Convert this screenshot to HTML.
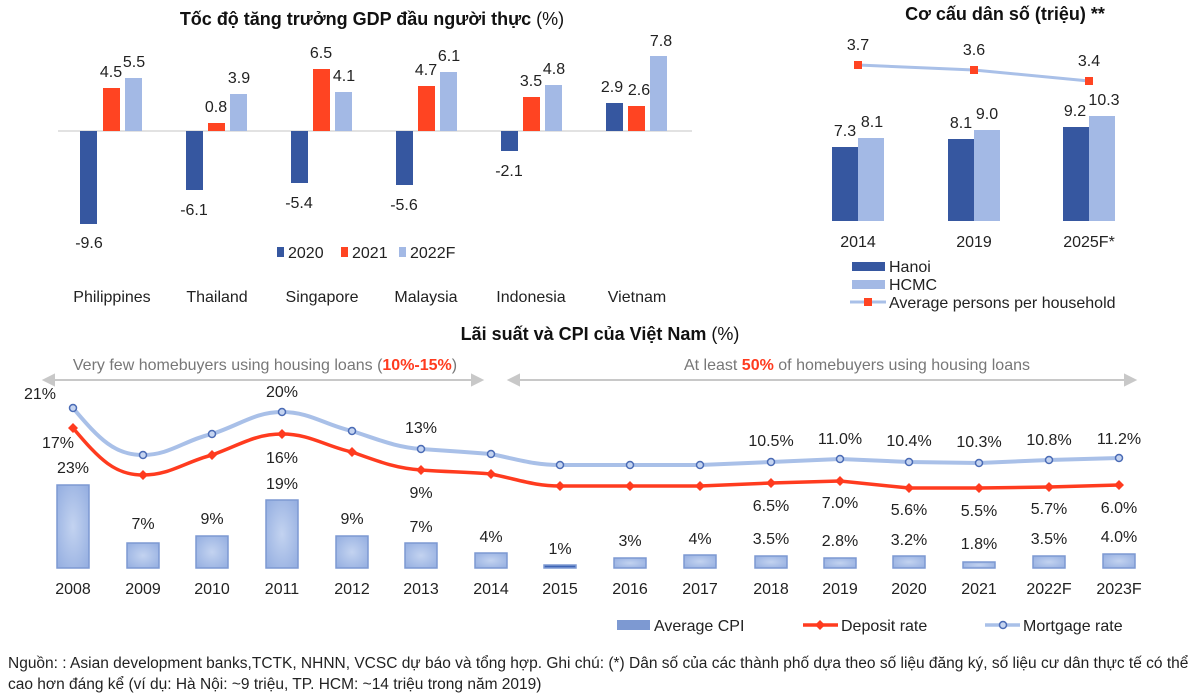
<!DOCTYPE html>
<html><head><meta charset="utf-8"><style>
body{margin:0;background:#fff;}
svg{display:block;font-family:"Liberation Sans","Noto Sans CJK SC",sans-serif;}
</style></head><body>
<svg width="1200" height="694" viewBox="0 0 1200 694">
<defs>
<radialGradient id="cpi" cx="50%" cy="50%" r="70%"><stop offset="0" stop-color="#c3d3f0"/><stop offset="1" stop-color="#93ade0"/></radialGradient>
</defs>
<text x="372" y="25" font-size="18" font-weight="bold" text-anchor="middle" fill="#111">Tốc độ tăng trưởng GDP đầu người thực <tspan font-weight="normal">(%)</tspan></text>
<line x1="58" y1="131" x2="692" y2="131" stroke="#d9d9d9" stroke-width="1.5"/>
<g font-size="16" fill="#222" text-anchor="middle">
<rect x="80" y="131" width="17" height="93" fill="#3657a0"/><rect x="103" y="88" width="17" height="43" fill="#ff4422"/><rect x="125" y="78" width="17" height="53" fill="#a3b9e5"/>
<text x="89" y="248">-9.6</text><text x="111" y="77">4.5</text><text x="134" y="67">5.5</text>
<rect x="186" y="131" width="17" height="59" fill="#3657a0"/><rect x="208" y="123" width="17" height="8" fill="#ff4422"/><rect x="230" y="94" width="17" height="37" fill="#a3b9e5"/>
<text x="194" y="215">-6.1</text><text x="216" y="112">0.8</text><text x="239" y="83">3.9</text>
<rect x="291" y="131" width="17" height="52" fill="#3657a0"/><rect x="313" y="69" width="17" height="62" fill="#ff4422"/><rect x="335" y="92" width="17" height="39" fill="#a3b9e5"/>
<text x="299" y="208">-5.4</text><text x="321" y="58">6.5</text><text x="344" y="81">4.1</text>
<rect x="396" y="131" width="17" height="54" fill="#3657a0"/><rect x="418" y="86" width="17" height="45" fill="#ff4422"/><rect x="440" y="72" width="17" height="59" fill="#a3b9e5"/>
<text x="404" y="210">-5.6</text><text x="426" y="75">4.7</text><text x="449" y="61">6.1</text>
<rect x="501" y="131" width="17" height="20" fill="#3657a0"/><rect x="523" y="97" width="17" height="34" fill="#ff4422"/><rect x="545" y="85" width="17" height="46" fill="#a3b9e5"/>
<text x="509" y="176">-2.1</text><text x="531" y="86">3.5</text><text x="554" y="74">4.8</text>
<rect x="606" y="103" width="17" height="28" fill="#3657a0"/><rect x="628" y="106" width="17" height="25" fill="#ff4422"/><rect x="650" y="56" width="17" height="75" fill="#a3b9e5"/>
<text x="612" y="92">2.9</text><text x="639" y="95">2.6</text><text x="661" y="46">7.8</text>
</g>
<g font-size="16" fill="#222">
<rect x="277" y="247" width="7" height="10" fill="#3657a0"/><text x="288" y="258">2020</text>
<rect x="341" y="247" width="7" height="10" fill="#ff4422"/><text x="352" y="258">2021</text>
<rect x="399" y="247" width="7" height="10" fill="#a3b9e5"/><text x="410" y="258">2022F</text>
</g>
<g font-size="16" fill="#222" text-anchor="middle">
<text x="112" y="302">Philippines</text><text x="217" y="302">Thailand</text><text x="322" y="302">Singapore</text><text x="426" y="302">Malaysia</text><text x="531" y="302">Indonesia</text><text x="637" y="302">Vietnam</text>
</g>
<text x="1005" y="20" font-size="18" font-weight="bold" text-anchor="middle" fill="#111">Cơ cấu dân số (triệu) **</text>
<g font-size="16" fill="#222" text-anchor="middle">
<rect x="832" y="147" width="26" height="74" fill="#3657a0"/><rect x="858" y="138" width="26" height="83" fill="#a3b9e5"/>
<rect x="948" y="139" width="26" height="82" fill="#3657a0"/><rect x="974" y="130" width="26" height="91" fill="#a3b9e5"/>
<rect x="1063" y="127" width="26" height="94" fill="#3657a0"/><rect x="1089" y="116" width="26" height="105" fill="#a3b9e5"/>
<text x="845" y="136">7.3</text><text x="872" y="127">8.1</text>
<text x="961" y="128">8.1</text><text x="987" y="119">9.0</text>
<text x="1075" y="116">9.2</text><text x="1104" y="105">10.3</text>
<polyline points="858,65 974,70 1089,81" fill="none" stroke="#a9c0e8" stroke-width="3"/>
<rect x="854" y="61" width="8" height="8" fill="#ff4422"/><rect x="970" y="66" width="8" height="8" fill="#ff4422"/><rect x="1085" y="77" width="8" height="8" fill="#ff4422"/>
<text x="858" y="50">3.7</text><text x="974" y="55">3.6</text><text x="1089" y="66">3.4</text>
<text x="858" y="247">2014</text><text x="974" y="247">2019</text><text x="1089" y="247">2025F*</text>
</g>
<g font-size="16" fill="#222">
<rect x="852" y="262" width="33" height="9" fill="#3657a0"/><text x="889" y="272">Hanoi</text>
<rect x="852" y="280" width="33" height="9" fill="#a3b9e5"/><text x="889" y="290">HCMC</text>
<line x1="850" y1="302" x2="886" y2="302" stroke="#a9c0e8" stroke-width="3"/><rect x="864" y="298" width="8" height="8" fill="#ff4422"/><text x="889" y="308">Average persons per household</text>
</g>
<text x="600" y="340" font-size="18" font-weight="bold" text-anchor="middle" fill="#111">Lãi suất và CPI của Việt Nam <tspan font-weight="normal">(%)</tspan></text>
<g font-size="16" fill="#777" text-anchor="middle">
<text x="265" y="370">Very few homebuyers using housing loans (<tspan fill="#ff3b1f" font-weight="bold">10%-15%</tspan>)</text>
<text x="857" y="370">At least <tspan fill="#ff3b1f" font-weight="bold">50%</tspan> of homebuyers using housing loans</text>
</g>
<g stroke="#c8c8c8" stroke-width="2" fill="#c8c8c8">
<line x1="50" y1="380" x2="475" y2="380"/><polygon points="44,380 54,375 54,385"/><polygon points="482,380 472,375 472,385"/>
<line x1="516" y1="380" x2="1128" y2="380"/><polygon points="509,380 519,375 519,385"/><polygon points="1135,380 1125,375 1125,385"/>
</g>
<g fill="url(#cpi)" stroke="#7d99d2" stroke-width="1.5">
<rect x="57" y="485" width="32" height="83"/><rect x="127" y="543" width="32" height="25"/><rect x="196" y="536" width="32" height="32"/><rect x="266" y="500" width="32" height="68"/><rect x="336" y="536" width="32" height="32"/><rect x="405" y="543" width="32" height="25"/><rect x="475" y="553" width="32" height="15"/><rect x="544" y="565" width="32" height="3" fill="#3e64b5"/><rect x="614" y="558" width="32" height="10"/><rect x="684" y="555" width="32" height="13"/><rect x="755" y="556" width="32" height="12"/><rect x="824" y="558" width="32" height="10"/><rect x="893" y="556" width="32" height="12"/><rect x="963" y="562" width="32" height="6"/><rect x="1033" y="556" width="32" height="12"/><rect x="1103" y="554" width="32" height="14"/>
</g>
<path d="M73,408 C100,440 115,455 143,455 C170,455 185,440 212,434 C240,425 255,412 282,412 C310,412 325,425 352,431 C380,440 395,447 421,449 C450,451 465,452 491,454 C520,460 535,465 560,465 L700,465 L771,462 L840,459 L909,462 L979,463 L1049,460 L1119,458" fill="none" stroke="#a9c0e8" stroke-width="4"/>
<path d="M73,428 C100,460 115,475 143,475 C170,475 185,462 212,455 C240,445 255,434 282,434 C310,434 325,446 352,452 C380,462 395,468 421,470 C450,472 465,472 491,474 C520,480 535,486 560,486 L700,486 L771,483 L840,481 L909,488 L979,488 L1049,487 L1119,485" fill="none" stroke="#ff3b1f" stroke-width="3.5"/>
<g fill="#c5d4f0" stroke="#4a6bb5" stroke-width="1.5">
<circle cx="73" cy="408" r="3.5"/><circle cx="143" cy="455" r="3.5"/><circle cx="212" cy="434" r="3.5"/><circle cx="282" cy="412" r="3.5"/><circle cx="352" cy="431" r="3.5"/><circle cx="421" cy="449" r="3.5"/><circle cx="491" cy="454" r="3.5"/><circle cx="560" cy="465" r="3.5"/><circle cx="630" cy="465" r="3.5"/><circle cx="700" cy="465" r="3.5"/><circle cx="771" cy="462" r="3.5"/><circle cx="840" cy="459" r="3.5"/><circle cx="909" cy="462" r="3.5"/><circle cx="979" cy="463" r="3.5"/><circle cx="1049" cy="460" r="3.5"/><circle cx="1119" cy="458" r="3.5"/>
</g>
<g fill="#ff3b1f">
<path d="M73,423 l5,5 -5,5 -5,-5z M143,470 l5,5 -5,5 -5,-5z M212,450 l5,5 -5,5 -5,-5z M282,429 l5,5 -5,5 -5,-5z M352,447 l5,5 -5,5 -5,-5z M421,465 l5,5 -5,5 -5,-5z M491,469 l5,5 -5,5 -5,-5z M560,481 l5,5 -5,5 -5,-5z M630,481 l5,5 -5,5 -5,-5z M700,481 l5,5 -5,5 -5,-5z M771,478 l5,5 -5,5 -5,-5z M840,476 l5,5 -5,5 -5,-5z M909,483 l5,5 -5,5 -5,-5z M979,483 l5,5 -5,5 -5,-5z M1049,482 l5,5 -5,5 -5,-5z M1119,480 l5,5 -5,5 -5,-5z"/>
</g>
<g font-size="16" fill="#222" text-anchor="middle">
<text x="40" y="399">21%</text><text x="282" y="397">20%</text><text x="421" y="433">13%</text>
<text x="771" y="446">10.5%</text><text x="840" y="444">11.0%</text><text x="909" y="446">10.4%</text><text x="979" y="447">10.3%</text><text x="1049" y="445">10.8%</text><text x="1119" y="444">11.2%</text>
<text x="58" y="448">17%</text><text x="282" y="463">16%</text><text x="421" y="498">9%</text>
<text x="771" y="511">6.5%</text><text x="840" y="508">7.0%</text><text x="909" y="515">5.6%</text><text x="979" y="516">5.5%</text><text x="1049" y="514">5.7%</text><text x="1119" y="513">6.0%</text>
<text x="73" y="473">23%</text><text x="143" y="529">7%</text><text x="212" y="524">9%</text><text x="282" y="489">19%</text><text x="352" y="524">9%</text><text x="421" y="532">7%</text><text x="491" y="542">4%</text><text x="560" y="554">1%</text><text x="630" y="546">3%</text><text x="700" y="544">4%</text><text x="771" y="544">3.5%</text><text x="840" y="546">2.8%</text><text x="909" y="545">3.2%</text><text x="979" y="549">1.8%</text><text x="1049" y="544">3.5%</text><text x="1119" y="542">4.0%</text>
<text x="73" y="594">2008</text><text x="143" y="594">2009</text><text x="212" y="594">2010</text><text x="282" y="594">2011</text><text x="352" y="594">2012</text><text x="421" y="594">2013</text><text x="491" y="594">2014</text><text x="560" y="594">2015</text><text x="630" y="594">2016</text><text x="700" y="594">2017</text><text x="771" y="594">2018</text><text x="840" y="594">2019</text><text x="909" y="594">2020</text><text x="979" y="594">2021</text><text x="1049" y="594">2022F</text><text x="1119" y="594">2023F</text>
</g>
<g font-size="16" fill="#222">
<rect x="617" y="620" width="33" height="10" fill="#7d99d2"/><text x="654" y="631">Average CPI</text>
<line x1="803" y1="625" x2="838" y2="625" stroke="#ff3b1f" stroke-width="3.5"/><path d="M820,620 l5,5 -5,5 -5,-5z" fill="#ff3b1f"/><text x="841" y="631">Deposit rate</text>
<line x1="985" y1="625" x2="1020" y2="625" stroke="#a9c0e8" stroke-width="3.5"/><circle cx="1003" cy="625" r="3.5" fill="#c5d4f0" stroke="#4a6bb5" stroke-width="1.5"/><text x="1023" y="631">Mortgage rate</text>
</g>
<g font-size="15.5" fill="#222">
<text x="8" y="668">Nguồn: : Asian development banks,TCTK, NHNN, VCSC dự báo và tổng hợp. Ghi chú: (*) Dân số của các thành phố dựa theo số liệu đăng ký, số liệu cư dân thực tế có thể</text>
<text x="8" y="689">cao hơn đáng kể (ví dụ: Hà Nội: ~9  triệu, TP. HCM: ~14 triệu trong năm 2019)</text>
</g>
</svg>
</body></html>
